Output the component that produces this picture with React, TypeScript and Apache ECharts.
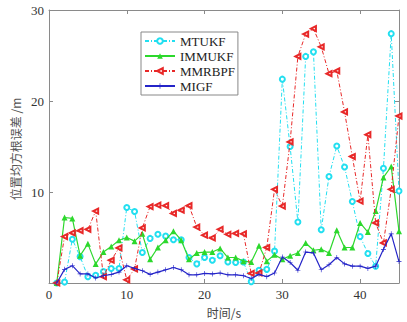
import React, { useEffect, useRef } from 'react';
import * as echarts from 'echarts';

const times = [1, 2, 3, 4, 5, 6, 7, 8, 9, 10, 11, 12, 13, 14, 15, 16, 17, 18, 19, 20, 21, 22, 23, 24, 25, 26, 27, 28, 29, 30, 31, 32, 33, 34, 35, 36, 37, 38, 39, 40, 41, 42, 43, 44, 45];

const mtukf = [0, 0.1, 4.8, 2.9, 0.7, 0.85, 1.25, 1.6, 1.6, 8.3, 7.85, 3.35, 4.9, 5.35, 5.15, 4.75, 4.75, 2.8, 2.1, 2.8, 2.5, 3.0, 2.3, 2.25, 2.3, 0.15, 1.4, 1.5, 3.5, 22.4, 15.0, 6.7, 24.9, 25.4, 5.85, 11.7, 15.05, 12.75, 8.95, 5.1, 3.25, 1.85, 12.6, 27.4, 10.1];

const immukf = [0, 7.2, 7.1, 3.0, 4.3, 2.1, 3.4, 4.0, 4.7, 5.0, 4.6, 5.4, 2.6, 3.9, 4.7, 5.7, 4.7, 2.6, 3.3, 3.4, 3.4, 3.8, 2.8, 2.8, 2.4, 2.3, 4.1, 2.4, 3.1, 2.6, 3.0, 3.3, 4.4, 3.6, 3.7, 3.3, 5.8, 3.9, 3.9, 6.6, 5.6, 7.9, 11.6, 12.8, 5.7];

const mmrbpf = [0, 5.1, 5.5, 5.75, 5.9, 7.9, 0.7, 2.5, 3.85, 0.35, 1.55, 6.05, 8.4, 8.55, 8.5, 7.65, 8.0, 8.5, 6.15, 5.25, 4.95, 5.9, 5.35, 5.45, 5.4, 1.05, 1.1, 3.9, 10.3, 8.45, 15.5, 24.9, 27.35, 27.95, 25.95, 23.0, 23.3, 18.8, 13.9, 9.0, 16.3, 6.6, 4.4, 10.3, 18.35];

const migf = [0, 1.5, 1.9, 1.0, 1.0, 0.55, 0.8, 0.95, 1.2, 1.9, 1.6, 1.35, 0.95, 1.2, 1.45, 1.7, 1.45, 0.9, 0.9, 1.05, 1.0, 1.1, 0.9, 0.9, 0.8, 0.5, 0.95, 0.7, 1.1, 2.85, 2.25, 1.4, 3.4, 3.3, 1.45, 2.0, 2.8, 2.1, 1.85, 1.85, 1.6, 1.85, 3.7, 5.4, 2.35];

const seriesNames = ['MTUKF', 'IMMUKF', 'MMRBPF', 'MIGF'];
const xTitle = '时间/s';
const yTitle = '位置均方根误差 /m';

export default function App() {
  const ref = useRef<HTMLDivElement>(null);
  useEffect(() => {
    const chart = echarts.init(ref.current!, null, { renderer: 'svg' });
    const serif = 'Liberation Serif';
    const cjk = 'Noto Sans CJK SC';
    const axisColor = '#8a8a8a';
    const pair = (vals: number[]) => times.map((x, i) => [x, vals[i]]);
    const axisCommon = {
      type: 'value',
      axisLine: { show: true, onZero: false, lineStyle: { color: axisColor, width: 1 } },
      axisTick: { show: true, inside: true, length: 4, lineStyle: { color: axisColor } },
      splitLine: { show: false },
    };
    chart.setOption({
      animation: false,
      grid: { left: 49, right: 8, top: 10, bottom: 39 },
      xAxis: [
        {
          ...axisCommon,
          position: 'bottom',
          min: 0,
          max: 45,
          interval: 10,
          axisLabel: { showMaxLabel: false, color: '#333', fontFamily: serif, fontSize: 13, margin: 5 },
        },
        {
          ...axisCommon,
          position: 'top',
          min: 0,
          max: 45,
          interval: 10,
          axisLabel: { show: false },
        },
      ],
      yAxis: [
        {
          ...axisCommon,
          position: 'left',
          min: 0,
          max: 30,
          interval: 10,
          axisLabel: { showMinLabel: false, color: '#333', fontFamily: serif, fontSize: 13, margin: 5 },
        },
        {
          ...axisCommon,
          position: 'right',
          min: 0,
          max: 30,
          interval: 10,
          axisLabel: { show: false },
        },
      ],
      legend: {
        data: seriesNames,
        orient: 'vertical',
        left: 141,
        top: 32,
        padding: [2, 3, 2, 3],
        itemWidth: 30,
        itemHeight: 7,
        itemGap: 1,
        borderColor: '#888',
        borderWidth: 1,
        borderRadius: 0,
        backgroundColor: '#fff',
        textStyle: { fontFamily: serif, fontSize: 13, color: '#222', lineHeight: 14 },
      },
      graphic: [
        {
          type: 'text',
          x: 15,
          y: 149,
          rotation: Math.PI / 2,
          style: {
            text: yTitle,
            fontFamily: cjk,
            fontSize: 12,
            fill: '#555',
            textAlign: 'center',
            textVerticalAlign: 'middle',
          },
        },
        {
          type: 'text',
          x: 224,
          y: 312,
          style: {
            text: xTitle,
            fontFamily: cjk,
            fontSize: 12,
            fill: '#444',
            textAlign: 'center',
            textVerticalAlign: 'middle',
          },
        },
      ],
      series: [
        {
          name: 'MTUKF',
          type: 'line',
          data: pair(mtukf),
          symbol: 'emptyCircle',
          symbolSize: 5,
          color: '#22dff0',
          lineStyle: { width: 1, type: [4, 2, 1, 2], color: '#22dff0' },
          itemStyle: { color: '#22dff0', borderColor: '#22dff0', borderWidth: 1 },
          z: 2,
        },
        {
          name: 'IMMUKF',
          type: 'line',
          data: pair(immukf),
          symbol: 'triangle',
          symbolSize: 6,
          color: '#2cd82c',
          lineStyle: { width: 1.2, type: 'solid', color: '#2cd82c' },
          itemStyle: { color: '#2cd82c' },
          z: 3,
        },
        {
          name: 'MMRBPF',
          type: 'line',
          data: pair(mmrbpf),
          symbol: 'emptyTriangle',
          symbolSize: 5,
          symbolRotate: 90,
          color: '#e82828',
          lineStyle: { width: 1, type: [4, 2, 1, 2], color: '#e82828' },
          itemStyle: { color: '#e82828', borderColor: '#e82828', borderWidth: 1.2 },
          z: 4,
        },
        {
          name: 'MIGF',
          type: 'line',
          data: pair(migf),
          symbol: 'path://M0,4.4H10V5.6H0Z M4.4,0H5.6V10H4.4Z',
          symbolSize: 5,
          color: '#2424c8',
          lineStyle: { width: 1.2, type: 'solid', color: '#2424c8' },
          itemStyle: { color: '#2424c8' },
          z: 5,
        },
      ],
    });
    return () => chart.dispose();
  }, []);
  return (
    <div
      ref={ref}
      style={{ position: 'fixed', left: 0, top: 0, width: 407, height: 322, background: '#fff' }}
    />
  );
}
